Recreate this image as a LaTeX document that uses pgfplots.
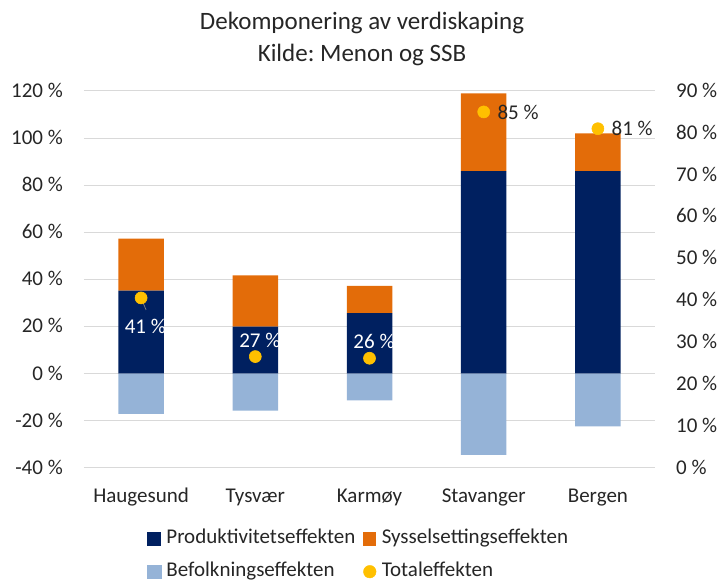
\documentclass[border=0pt]{standalone}
\usepackage{pgfplots}
\pgfplotsset{compat=1.18}
\usepackage{fontspec}
\setmainfont{Carlito}
\frenchspacing
\definecolor{prod}{RGB}{0,32,96}
\definecolor{syss}{RGB}{227,108,9}
\definecolor{befolk}{RGB}{149,179,215}
\definecolor{total}{RGB}{255,192,0}
\definecolor{gridc}{RGB}{217,217,217}
\definecolor{txt}{RGB}{38,38,38}
\pgfplotsset{
  base/.style={scale only axis, width=571pt, height=377pt, at={(0,0)}, anchor=south west,
    xmin=-0.5, xmax=4.5, axis line style={draw=none}, tick style={draw=none}},
  dot/.style={color=total, only marks, mark=*, mark size=6pt,
    mark options={fill=total, draw=total, line width=0.6pt}},
}
\begin{document}
\begin{tikzpicture}[font=\fontsize{21}{25}\selectfont, text=txt]
\path[use as bounding box] (-84pt,-117pt) rectangle (636pt,468pt);
\node[anchor=base, font=\fontsize{25}{30}\selectfont] at (278pt,438pt) {Dekomponering av verdiskaping};
\node[anchor=base, font=\fontsize{25}{30}\selectfont] at (278pt,406pt) {Kilde: Menon og SSB};
% main axis: stacked positive bars
\begin{axis}[base, ymin=-40, ymax=120,
  ytick={-40,-20,...,120},
  yticklabels={-40 \%,-20 \%,0 \%,20 \%,40 \%,60 \%,80 \%,100 \%,120 \%},
  ymajorgrids, major grid style={gridc, line width=1pt},
  xtick={0,1,2,3,4},
  xticklabels={Haugesund,Tysvær,Karmøy,Stavanger,Bergen},
  xticklabel style={anchor=base, inner sep=0pt, yshift=-35pt},
  yticklabel style={anchor=base east, inner sep=0pt, xshift=-21pt, yshift=-6.3pt},
  ybar stacked, bar width=45.5pt,
  legend columns=2,
  legend cell align=left,
  legend style={draw=none, fill=none, inner sep=0pt, outer sep=0pt,
    at={(0,0)}, anchor=north west, xshift=63.3pt, yshift=-61pt,
    row sep=12.7pt,
    nodes={inner sep=0pt, text height=15pt, text depth=5pt},
    /tikz/every odd column/.style={column sep=5.3pt},
    /tikz/every even column/.style={column sep=7.7pt}},
]
\addplot[fill=prod, draw=none,
  legend image code/.code={\fill[prod] (0pt,-6.7pt) rectangle (13.4pt,6.7pt);}]
  coordinates {(0,35.3) (1,20.0) (2,25.7) (3,86.0) (4,86.0)};
\addplot[fill=syss, draw=none,
  legend image code/.code={\fill[syss] (0pt,-6.7pt) rectangle (13.4pt,6.7pt);}]
  coordinates {(0,22.0) (1,21.7) (2,11.6) (3,33.0) (4,16.0)};
\addlegendimage{legend image code/.code={\fill[befolk] (0pt,-6.7pt) rectangle (13.4pt,6.7pt);}}
\addlegendimage{legend image code/.code={\fill[total] (6.7pt,0pt) circle (6.3pt);}}
\legend{Produktivitetseffekten,Sysselsettingseffekten,Befolkningseffekten,Totaleffekten}
\end{axis}
% negative bars
\begin{axis}[base, ymin=-40, ymax=120, hide axis, ybar, bar width=45.5pt]
\addplot[fill=befolk, draw=none]
  coordinates {(0,-17.0) (1,-15.6) (2,-11.3) (3,-34.4) (4,-22.3)};
\end{axis}
% right axis: total effect
\begin{axis}[base, ymin=0, ymax=90,
  ytick={0,10,...,90},
  yticklabels={0 \%,10 \%,20 \%,30 \%,40 \%,50 \%,60 \%,70 \%,80 \%,90 \%},
  yticklabel pos=right,
  yticklabel style={anchor=base west, inner sep=0pt, xshift=21pt, yshift=-6.3pt},
  xtick=\empty,
]
\draw[gray, line width=0.75pt] (axis cs:0,40.6) -- ++(5pt,-12pt);
\addplot[dot, point meta=explicit symbolic, nodes near coords,
  nodes near coords style={anchor=base, inner sep=0pt, xshift=4.2pt, yshift=-35.7pt, text=white}]
  coordinates {(0,40.6) [41 \%]};
\addplot[dot, point meta=explicit symbolic, nodes near coords,
  nodes near coords style={anchor=base, inner sep=0pt, xshift=4.5pt, yshift=9.4pt, text=white}]
  coordinates {(1,26.6) [27 \%] (2,26.2) [26 \%]};
\addplot[dot, point meta=explicit symbolic, nodes near coords,
  nodes near coords style={anchor=base west, inner sep=0pt, xshift=13.5pt, yshift=-7.3pt, text=txt}]
  coordinates {(3,85.0) [85 \%] (4,81.0) [81 \%]};
\end{axis}
\end{tikzpicture}
\end{document}
